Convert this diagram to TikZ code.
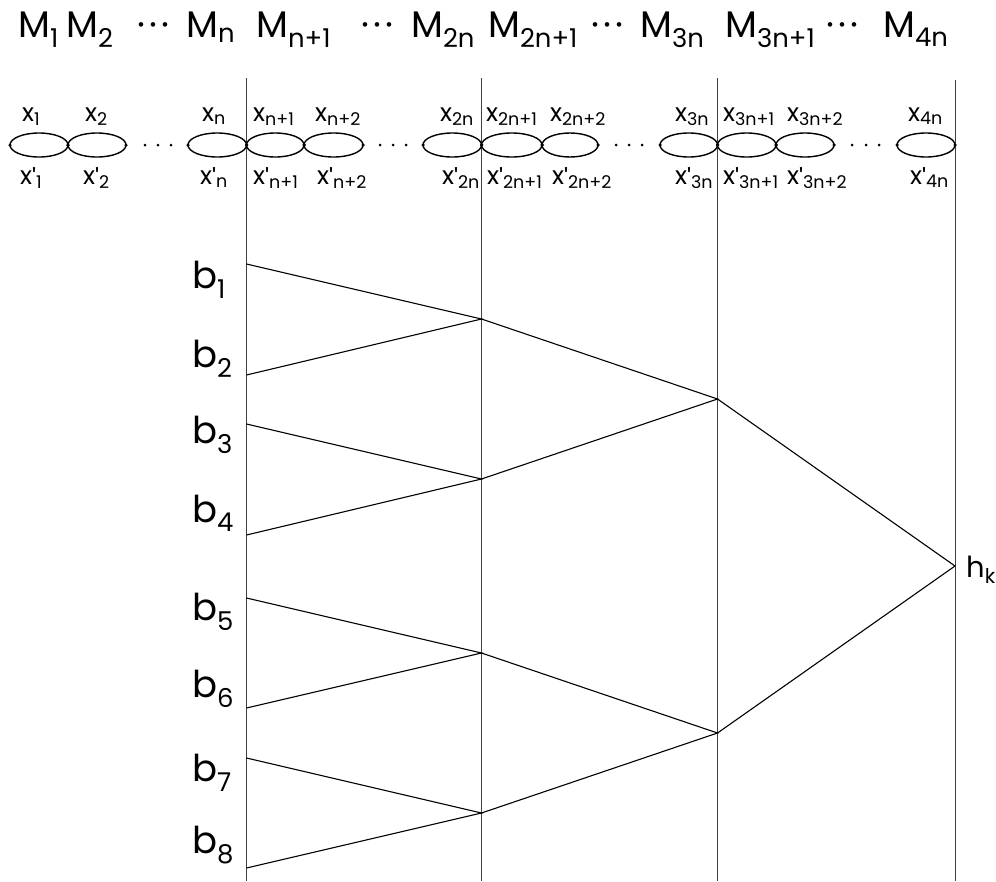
\documentclass[tikz,border=0pt]{standalone}
\usepackage{fontspec}
\setmainfont{Poppins}
\newcommand\lb[2]{#1\textsubscript{#2}}
\newcommand\pr[1]{x\raisebox{-0.12em}{\textquotesingle}\textsubscript{#1}}
\newcommand\hdots{·\kern0.12em·\kern0.12em·}
\begin{document}
\begin{tikzpicture}[x=1pt,y=-1pt,
  bigtxt/.style={font=\fontsize{37}{42}\selectfont,inner sep=0pt,anchor=base west},
  smalltxt/.style={font=\fontsize{25}{30}\selectfont,inner sep=0pt,anchor=base west},
  htxt/.style={font=\fontsize{29}{34}\selectfont,inner sep=0pt,anchor=base west},
  dottxt/.style={font=\fontsize{37}{42}\selectfont,inner sep=0pt,anchor=base west},
  rail/.style={draw=black!75,line width=1pt},
  edge/.style={draw=black,line width=1.1pt},
  loop/.style={draw=black,line width=1.4pt},
  pin/.style={circle,fill=black,inner sep=0pt,minimum size=3.5pt},
  gap/.style={circle,fill=black,inner sep=0pt,minimum size=3pt}]
\useasboundingbox (0,0) rectangle (996,881);

% header row of machines
\node[bigtxt] (m1) at (18,37) {\lb{M}{1}};
\node[bigtxt] (m2) at (66,37) {\lb{M}{2}};
\node[dottxt] (md1) at (137,37) {\hdots};
\node[bigtxt] (mn) at (186,37) {\lb{M}{n}};
\node[bigtxt] (mn1) at (256,37) {\lb{M}{n+1}};
\node[dottxt] (md2) at (361,37) {\hdots};
\node[bigtxt] (m2n) at (411,37) {\lb{M}{2n}};
\node[bigtxt] (m2n1) at (488,37) {\lb{M}{2n+1}};
\node[dottxt] (md3) at (591,37) {\hdots};
\node[bigtxt] (m3n) at (640,37) {\lb{M}{3n}};
\node[bigtxt] (m3n1) at (725,37) {\lb{M}{3n+1}};
\node[dottxt] (md4) at (826,37) {\hdots};
\node[bigtxt] (m4n) at (883,37) {\lb{M}{4n}};

% vertical separators
\foreach \n/\x/\t in {r1/246.5/78, r2/481.5/78, r3/717.5/78, r4/955/80} {
  \coordinate (\n top) at (\x,\t);
  \coordinate (\n bot) at (\x,881);
  \draw[rail] (\n top) -- (\n bot);
}

% chain of loops
\foreach \a/\b in {10/68, 68/126, 188/246.5, 246.5/304, 304/363, 423/481.5,
                   481.5/542, 542/598, 660/717.5, 717.5/776, 776/834, 897/955} {
  \draw[loop] ({(\a+\b)/2},145) ellipse ({(\b-\a)/2} and 12);
  \node[pin] at (\a,145) {};
  \node[pin] at (\b,145) {};
}
\foreach \x in {145,158,171, 380,393,406, 616,629,642, 852,866,879}
  \node[gap] at (\x,145) {};

% upper labels
\foreach \x/\s in {22/1, 85/2, 202/n, 253/n+1, 315/n+2, 440/2n, 486/2n+1,
                   550/2n+2, 675/3n, 723/3n+1, 787/3n+2, 908/4n}
  \node[smalltxt] at (\x,121) {\lb{x}{\s}};
% lower labels
\foreach \x/\s in {20/1, 83/2, 200/n, 253/n+1, 317/n+2, 442/2n, 487/2n+1,
                   552/2n+2, 675/3n, 723/3n+1, 787/3n+2, 910/4n}
  \node[smalltxt] at (\x,184) {\pr{\s}};

% leaf inputs on the first separator
\foreach \i/\y in {1/264, 2/375, 3/424, 4/535, 5/598, 6/708, 7/758, 8/868}
  \coordinate (b\i) at (246.5,\y);
\foreach \i/\y in {1/288, 2/367, 3/443, 4/522, 5/620, 6/697, 7/781, 8/853}
  \node[bigtxt] (lb\i) at (192,\y) {\lb{b}{\i}};

% combining levels
\coordinate (c1) at (481.5,319);
\coordinate (c2) at (481.5,479);
\coordinate (c3) at (481.5,653);
\coordinate (c4) at (481.5,813);
\coordinate (d1) at (717.5,399);
\coordinate (d2) at (717.5,733);
\coordinate (hk) at (955,566);
\node[htxt] (hl) at (966,577) {\lb{h}{k}};

\draw[edge] (b1) -- (c1) -- (b2);
\draw[edge] (b3) -- (c2) -- (b4);
\draw[edge] (b5) -- (c3) -- (b6);
\draw[edge] (b7) -- (c4) -- (b8);
\draw[edge] (c1) -- (d1) -- (c2);
\draw[edge] (c3) -- (d2) -- (c4);
\draw[edge] (d1) -- (hk) -- (d2);
\end{tikzpicture}
\end{document}
